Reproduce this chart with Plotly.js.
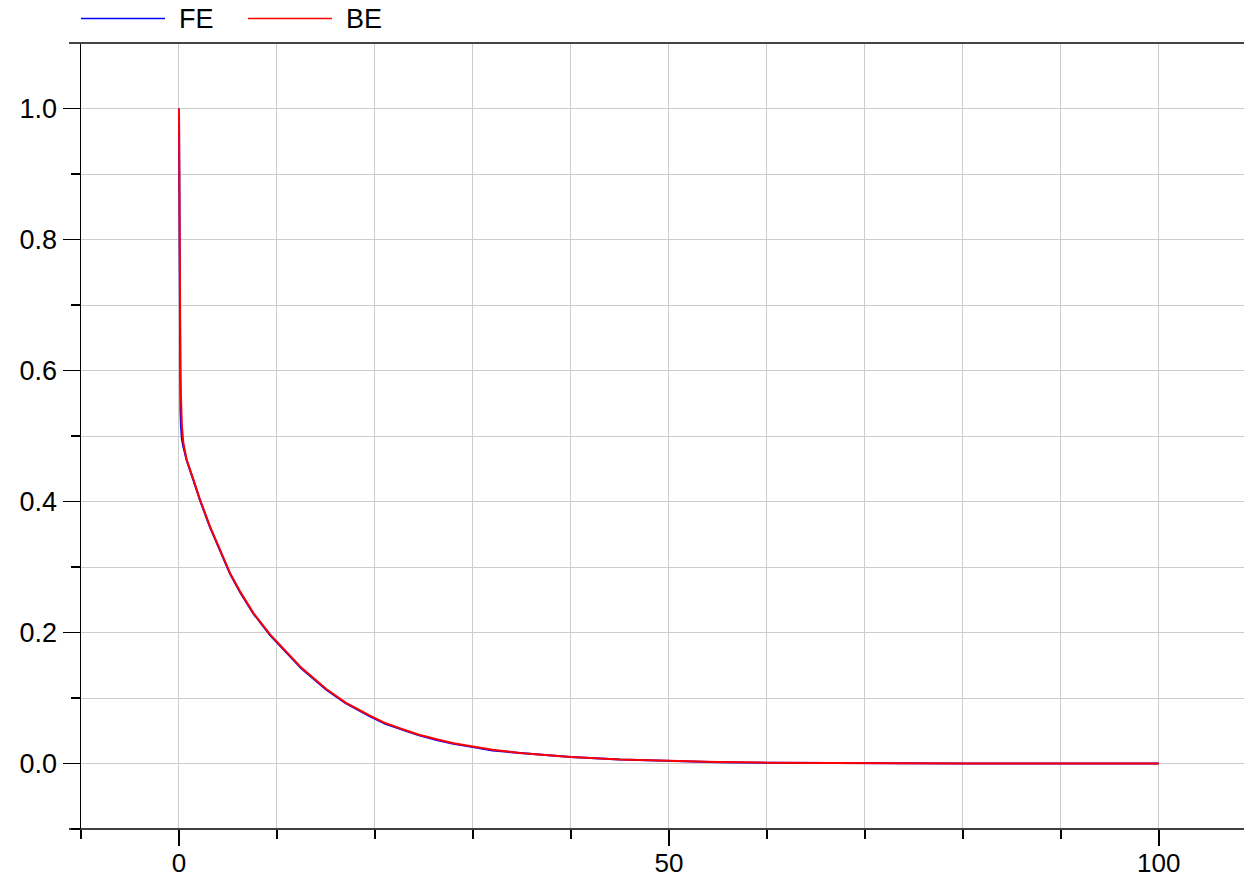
<!DOCTYPE html>
<html>
<head>
<meta charset="utf-8">
<script src="https://cdn.plot.ly/plotly-3.0.1.min.js"></script>
<style>
html,body{margin:0;padding:0;background:#fff;}
#chart{width:1244px;height:879px;}
</style>
</head>
<body>
<div id="chart"></div>
<script>
// Values
const tFE = [0, 0.03, 0.06, 0.1, 0.15, 0.2, 0.3, 0.44, 0.78, 1.46, 2.14, 3.16, 4.35, 5.2, 6.22, 7.58, 9.29, 10.6, 12.5, 15, 17, 19.49, 21, 22.9, 24.5, 26.3, 28, 30, 32, 34.8, 37, 40, 45, 50, 55, 60, 65, 70, 80, 90, 100];
const yFE = [1.0, 0.82, 0.68, 0.6, 0.54, 0.515, 0.495, 0.484, 0.463, 0.433, 0.402, 0.361, 0.321, 0.29, 0.262, 0.229, 0.196, 0.175, 0.145, 0.113, 0.092, 0.072, 0.061, 0.051, 0.043, 0.036, 0.030, 0.025, 0.020, 0.016, 0.013, 0.0098, 0.006, 0.0035, 0.002, 0.0012, 0.0007, 0.0004, 0.00013, 0.00005, 0.00002];
const tBE = [0, 0.03, 0.06, 0.1, 0.15, 0.2, 0.3, 0.44, 0.78, 1.46, 2.14, 3.16, 4.35, 5.2, 6.22, 7.58, 9.29, 10.6, 12.5, 15, 17, 19.49, 21, 22.9, 24.5, 26.3, 28, 30, 32, 34.8, 37, 40, 45, 50, 55, 60, 65, 70, 80, 90, 100];
const yBE = [1.0, 0.88, 0.77, 0.68, 0.6, 0.56, 0.515, 0.49, 0.464, 0.434, 0.403, 0.362, 0.322, 0.291, 0.263, 0.23, 0.197, 0.176, 0.146, 0.114, 0.093, 0.073, 0.062, 0.052, 0.044, 0.037, 0.031, 0.026, 0.021, 0.016, 0.013, 0.0099, 0.0061, 0.0036, 0.0021, 0.0013, 0.0008, 0.0004, 0.00014, 0.00005, 0.00002];
const seriesNames = ['FE', 'BE'];
const seriesColors = ['#0000ff', '#ff0000'];
const xTickVals = [0, 50, 100];
const yTickVals = [0.0, 0.2, 0.4, 0.6, 0.8, 1.0];

const FONT = 'Liberation Sans, Arial, sans-serif';
const GRID = '#cccccc';
const FS = 27;

const traces = [
  {x: tFE, y: yFE, name: seriesNames[0], mode: 'lines', line: {color: seriesColors[0], width: 2}},
  {x: tBE, y: yBE, name: seriesNames[1], mode: 'lines', line: {color: seriesColors[1], width: 2}}
];

// plot area: left 81px, width 1163px; top 43px, height 786px
const PW = 1163, PH = 786, PL = 81, PT = 43;
const px2x = p => (p - PL) / PW;
const py2y = p => (PT + PH - p) / PH;

const legendY = py2y(18.5);
const legendItems = [
  {lx0: 81, lx1: 165, tx: 177},
  {lx0: 248, lx1: 332, tx: 344}
];
const shapes = [
  {type: 'line', xref: 'paper', yref: 'paper', x0: px2x(69), x1: 1, y0: 0, y1: 0, line: {color: '#000', width: 1.5}},
  {type: 'line', xref: 'paper', yref: 'paper', x0: px2x(69), x1: 1, y0: 1, y1: 1, line: {color: '#444', width: 2}}
];
const annotations = [];
legendItems.forEach((it, i) => {
  shapes.push({type: 'line', xref: 'paper', yref: 'paper', x0: px2x(it.lx0), x1: px2x(it.lx1), y0: legendY, y1: legendY,
               line: {color: seriesColors[i], width: 1.5}});
  annotations.push({xref: 'paper', yref: 'paper', x: px2x(it.tx), y: legendY, xanchor: 'left', yanchor: 'middle',
                    text: seriesNames[i], showarrow: false, font: {family: FONT, size: FS, color: '#000'}});
});

const layout = {
  width: 1244, height: 879,
  margin: {l: PL, r: 0, t: PT, b: 879 - PT - PH, autoexpand: false},
  paper_bgcolor: '#fff', plot_bgcolor: '#fff',
  font: {family: FONT, size: FS, color: '#000'},
  showlegend: false,
  xaxis: {
    range: [-10, 108.7], tickvals: xTickVals, ticktext: xTickVals.map(String),
    ticks: 'outside', ticklen: 16, tickwidth: 1.5, tickcolor: '#000', ticklabelstandoff: -5,
    showgrid: true, gridcolor: GRID, gridwidth: 1,
    showline: false, zeroline: false, automargin: false,
    minor: {dtick: 10, tick0: 0, ticks: 'outside', ticklen: 9, tickwidth: 1.5, tickcolor: '#000', showgrid: true, gridcolor: GRID, gridwidth: 1},
    tickfont: {family: FONT, size: 26, color: '#000'}
  },
  yaxis: {
    range: [-0.1, 1.1], tickvals: yTickVals, ticktext: yTickVals.map(v => v.toFixed(1)),
    ticks: 'outside', ticklen: 17, tickwidth: 1.5, tickcolor: '#000',
    showgrid: true, gridcolor: GRID, gridwidth: 1,
    showline: true, linecolor: '#000', linewidth: 1.5, zeroline: false, automargin: false,
    minor: {dtick: 0.1, tick0: 0, ticks: 'outside', ticklen: 9, tickwidth: 1.5, tickcolor: '#000', showgrid: true, gridcolor: GRID, gridwidth: 1},
    tickfont: {family: FONT, size: FS, color: '#000'}
  },
  shapes: shapes,
  annotations: annotations
};

Plotly.newPlot('chart', traces, layout, {staticPlot: true, displayModeBar: false});
</script>
</body>
</html>
